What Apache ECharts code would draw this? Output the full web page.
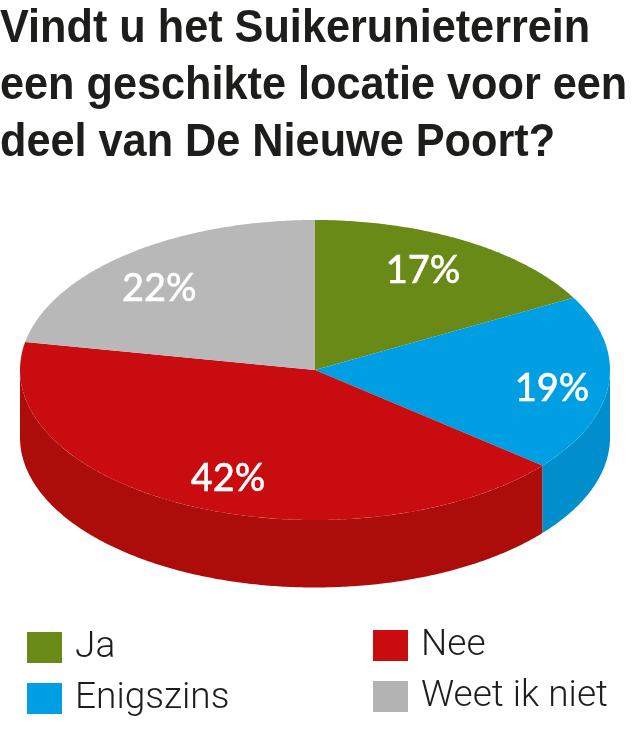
<!DOCTYPE html>
<html>
<head>
<meta charset="utf-8">
<style>html,body{margin:0;padding:0;background:#fff}#chart{width:640px;height:744px}</style>
<script src="https://cdn.jsdelivr.net/npm/echarts@6/dist/echarts.min.js"></script>
</head>
<body>
<div id="chart"></div>
<script>
// Survey answers, clockwise from twelve o'clock, in percent.
const categories = ['Ja', 'Enigszins', 'Nee', 'Weet ik niet'];
const percentages = [17, 19, 42, 22];

const topColors = ['#6a8a17', '#009fe3', '#c90c0f', '#b9b8b8'];
const sideColors = ['#55700f', '#008fcc', '#ad0d0a', '#969595'];
const swatchColors = ['#6a8a17', '#009fe3', '#c90c0f', '#b3b3b3'];

const titleText = 'Vindt u het Suikerunieterrein\neen geschikte locatie voor een\ndeel van De Nieuwe Poort?';

// The disc is the unit circle in data space, squashed by the grid's aspect
// ratio; the rim extends below it by this many units.
const RIM_DEPTH = 0.45;
const LABEL_RADIUS = 0.78;
// Hand placement of the percentage labels relative to their radial spot, in pixels.
const labelNudges = [[-9, 1], [8, 8], [11, 3], [-9, 9]];

const total = percentages.reduce((a, b) => a + b, 0);
const starts = percentages.map((_, i) => percentages.slice(0, i).reduce((a, b) => a + b, 0));

const toAngle = (p) => (p / total) * 2 * Math.PI;
const onDisc = (angle, r = 1, drop = 0) => [r * Math.sin(angle), r * Math.cos(angle) - drop];

function arc(api, from, to, drop) {
  const steps = Math.max(2, Math.ceil((to - from) / 0.01));
  const pts = [];
  for (let s = 0; s <= steps; s++) {
    pts.push(api.coord(onDisc(from + ((to - from) * s) / steps, 1, drop)));
  }
  return pts;
}

function renderSlice(i) {
  return function (params, api) {
    const from = toAngle(api.value(0));
    const to = toAngle(api.value(0) + api.value(1));
    const children = [];

    // Only the front half of the rim (a quarter turn to three quarters) faces the viewer.
    const rimFrom = Math.max(from, Math.PI / 2);
    const rimTo = Math.min(to, (3 * Math.PI) / 2);
    if (rimTo > rimFrom) {
      children.push({
        type: 'polygon',
        shape: { points: arc(api, rimFrom, rimTo, 0).concat(arc(api, rimFrom, rimTo, RIM_DEPTH).reverse()) },
        style: { fill: sideColors[i] }
      });
    }

    children.push({
      type: 'polygon',
      shape: { points: [api.coord([0, 0])].concat(arc(api, from, to, 0)) },
      style: { fill: topColors[i] }
    });

    const at = api.coord(onDisc((from + to) / 2, LABEL_RADIUS));
    children.push({
      type: 'text',
      z2: 10,
      style: {
        text: api.value(1) + '%',
        x: at[0] + labelNudges[i][0],
        y: at[1] + labelNudges[i][1],
        fill: '#ffffff',
        stroke: '#ffffff',
        lineWidth: 0.4,
        font: '500 38px Lato',
        align: 'center',
        verticalAlign: 'middle'
      }
    });
    return { type: 'group', children };
  };
}

const legendBase = {
  orient: 'vertical',
  icon: 'rect',
  padding: 0,
  itemWidth: 35,
  itemHeight: 31,
  itemGap: 14,
  selectedMode: false,
  textStyle: {
    color: '#1d1d1b',
    fontFamily: 'Roboto',
    fontWeight: 300,
    fontSize: 37,
    padding: [0, 0, 0, 8]
  }
};

const chart = echarts.init(document.getElementById('chart'), null, { renderer: 'canvas' });
chart.setOption({
  animation: false,
  backgroundColor: '#ffffff',
  // The headline is a heavy condensed face: a bold sans narrowed horizontally.
  graphic: {
    elements: [{
      type: 'text',
      x: 0,
      y: 1,
      scaleX: 0.94,
      style: {
        text: titleText,
        fill: '#1d1d1b',
        font: 'bold 46px "Liberation Sans"',
        lineHeight: 57,
        align: 'left',
        verticalAlign: 'top'
      }
    }]
  },
  legend: [
    Object.assign({}, legendBase, { data: categories.slice(0, 2), left: 27, top: 629 }),
    Object.assign({}, legendBase, { data: categories.slice(2), left: 373, top: 627 })
  ],
  grid: { left: 20, width: 590, top: 220, height: 367.5 },
  xAxis: { type: 'value', min: -1, max: 1, show: false },
  yAxis: { type: 'value', min: -1 - RIM_DEPTH, max: 1, show: false },
  series: categories.map((name, i) => ({
    type: 'custom',
    name,
    itemStyle: { color: swatchColors[i] },
    data: [[starts[i], percentages[i]]],
    renderItem: renderSlice(i),
    silent: true
  }))
});
</script>
</body>
</html>
